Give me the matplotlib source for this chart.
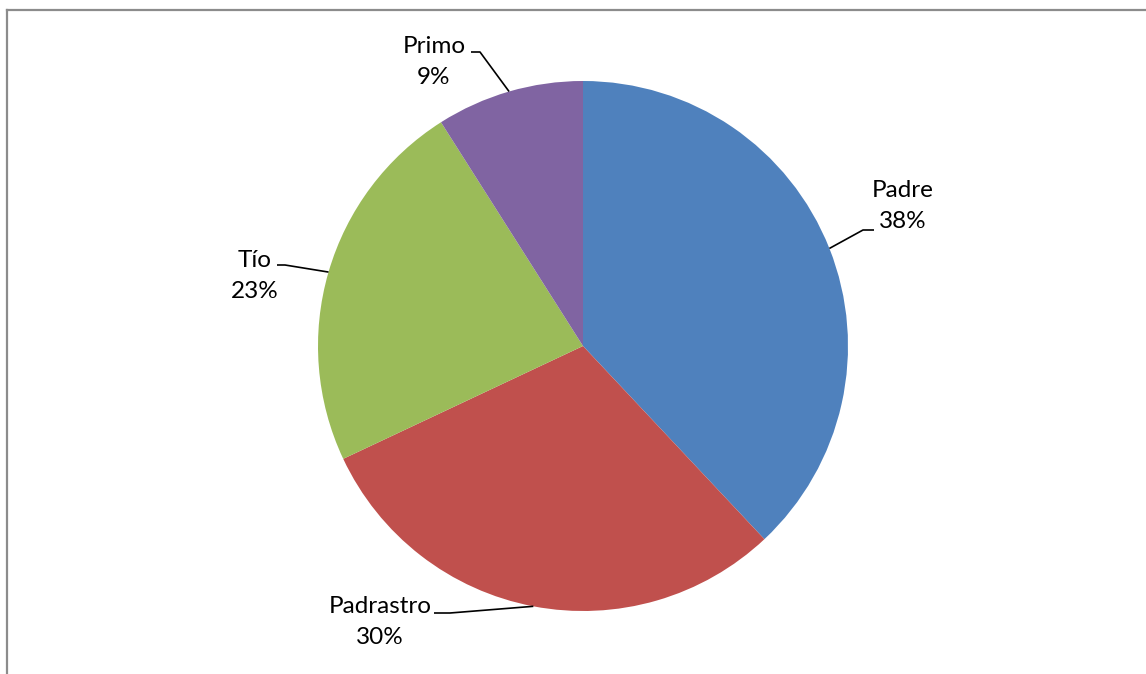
import numpy as np
import matplotlib.pyplot as plt
from matplotlib.lines import Line2D

# Datos del grafico
categorias = ['Padre', 'Padrastro', 'Tío', 'Primo']
valores = [38, 30, 23, 9]
colores = ['#4F81BD', '#C0504D', '#9BBB59', '#8064A2']

# Posicion de las etiquetas (centro del texto) y del codo de la linea guia
pos_etiqueta = [(903, 468), (380, 52), (255, 398), (434, 612)]
codo = [(874, 863, 444), (434, 450, 61), (277, 285, 409), (471, 480, 622)]

W, H = 1146, 674
fig = plt.figure(figsize=(W / 100, H / 100), dpi=100)
ax = fig.add_axes([0, 0, 1, 1])

centro = (583, 328)
radio = 265
wedges, _ = ax.pie(valores, colors=colores, startangle=90, counterclock=False,
                   center=centro, radius=radio, frame=True,
                   wedgeprops=dict(linewidth=0))
ax.set_xlim(0, W)
ax.set_ylim(0, H)
ax.set_aspect('equal')
ax.axis('off')

total = sum(valores)
for w, cat, val, (tx, ty), (x0, x1, yc) in zip(wedges, categorias, valores,
                                               pos_etiqueta, codo):
    ang = np.deg2rad((w.theta1 + w.theta2) / 2)
    px = centro[0] + radio * np.cos(ang)
    py = centro[1] + radio * np.sin(ang)
    ax.plot([x0, x1, px], [yc, yc, py], color='black', lw=1.2,
            solid_capstyle='butt')
    ax.text(tx, ty, f'{cat}\n{round(100 * val / total)}%', ha='center',
            va='center', multialignment='center', fontsize=17.5,
            family='Lato', linespacing=1.62, color='black')

# Marco del area del grafico
fig.add_artist(Line2D([7.3 / W, 7.3 / W], [0, (H - 10.3) / H],
                      transform=fig.transFigure, color='#8c8c8c', lw=1.6))
fig.add_artist(Line2D([7.3 / W, 1], [(H - 10.3) / H, (H - 10.3) / H],
                      transform=fig.transFigure, color='#8c8c8c', lw=1.6))

fig.savefig('out.png', dpi=100)
